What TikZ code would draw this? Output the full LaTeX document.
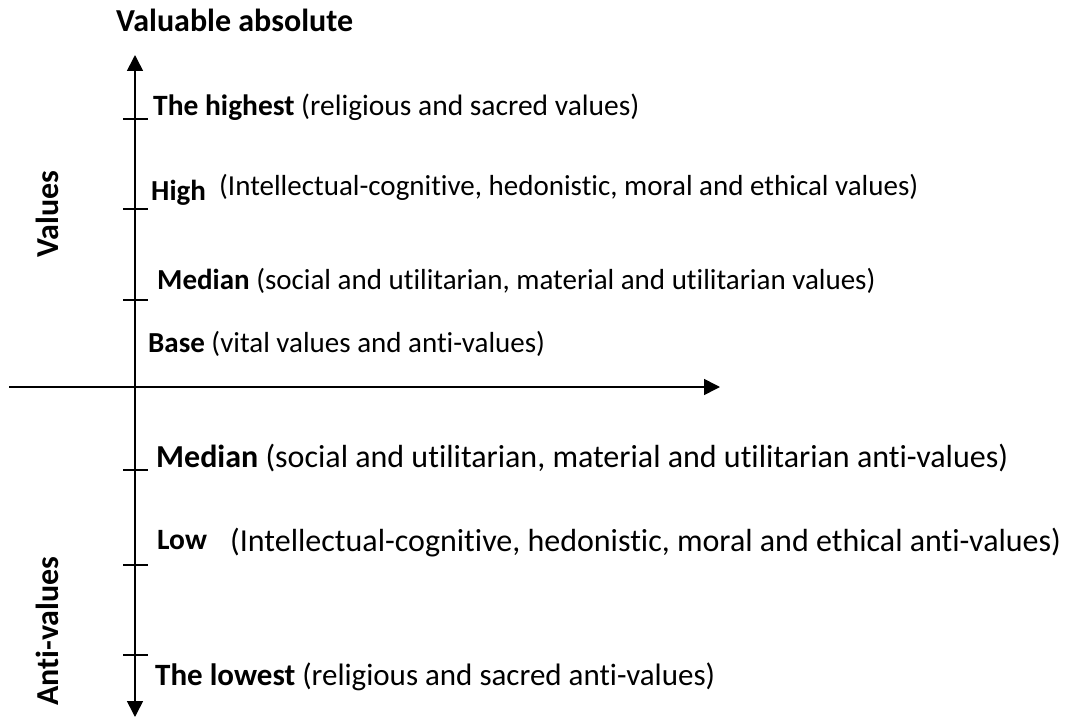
\documentclass[tikz,border=0pt]{standalone}
\usepackage{fontspec}
\setmainfont{Carlito}[Ligatures=NoCommon]
\usetikzlibrary{arrows.meta}
\newcommand{\fs}[1]{\fontsize{#1}{#1}\selectfont}
\begin{document}
\begin{tikzpicture}[x=1pt,y=-1pt,
    axis/.style={line width=1.6pt,-{Triangle[length=16pt,width=16pt]}},
    tickmark/.style={line width=1.2pt},
    lvl/.style={anchor=base west,inner sep=0pt,font=\fs{29}},
    lvlbig/.style={anchor=base west,inner sep=0pt,font=\fs{32}},
    side/.style={inner sep=0pt,font=\fs{32}\bfseries,rotate=90}]
    \useasboundingbox (0,0) rectangle (1068,717);

    % axes
    \coordinate (o) at (135,387);
    \coordinate (top) at (135,55);
    \coordinate (bottom) at (135,717);
    \coordinate (left) at (9,387);
    \coordinate (right) at (720,387);
    \draw[axis] (o) -- (top);
    \draw[axis] (o) -- (bottom);
    \draw[axis] (left) -- (right);

    % ticks on the vertical axis
    \foreach \y/\n in {119/t1,209/t2,300/t3,470/t4,565/t5,655/t6}{
        \coordinate (\n a) at (123,\y);
        \coordinate (\n b) at (148,\y);
        \draw[tickmark] (\n a) -- (\n b);
    }

    % titles
    \node[lvl,font=\fs{32}\bfseries] (title) at (116,32) {Valuable absolute};
    \node[side] (values) at (47,214) {Values};
    \node[side] (antivalues) at (47,631) {Anti-values};

    % levels above the axis
    \node[lvl,font=\fs{29.5}] (highest) at (153,115) {\textbf{The highest} (religious and sacred values)};
    \node[lvl] (high) at (151,200) {\textbf{High}};
    \node[lvl] (hightxt) at (219,195) {(Intellectual-cognitive, hedonistic, moral and ethical values)};
    \node[lvl] (median) at (157,289) {\textbf{Median} (social and utilitarian, material and utilitarian values)};
    \node[lvl] (base) at (148,352) {\textbf{Base} (vital values and anti-values)};

    % levels below the axis
    \node[lvlbig] (amedian) at (156,467) {\textbf{Median} (social and utilitarian, material and utilitarian anti-values)};
    \node[lvl,font=\fs{29.5}] (low) at (157,549) {\textbf{Low}};
    \node[lvlbig] (lowtxt) at (230,551) {(Intellectual-cognitive, hedonistic, moral and ethical anti-values)};
    \node[lvl,font=\fs{31}] (lowest) at (155,685) {\textbf{The lowest} (religious and sacred anti-values)};
\end{tikzpicture}
\end{document}
